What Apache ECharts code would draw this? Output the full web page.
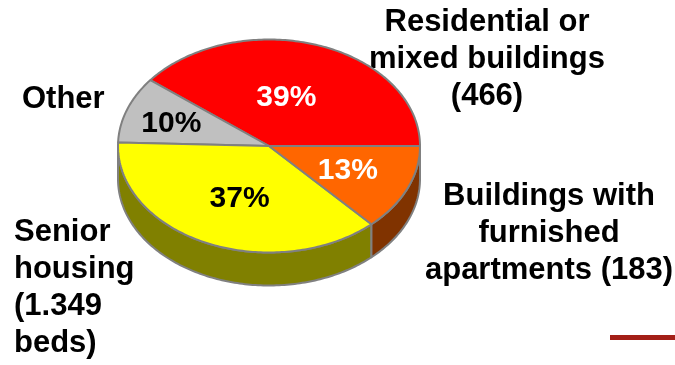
<!DOCTYPE html>
<html>
<head>
<meta charset="utf-8">
<script src="https://cdn.jsdelivr.net/npm/echarts@6/dist/echarts.min.js"></script>
<style>
  html, body { margin: 0; padding: 0; background: #fff; }
  #chart { width: 675px; height: 365px; }
</style>
</head>
<body>
<div id="chart"></div>
<script>
// Slices, counter-clockwise from the 3 o'clock position
const categories = ['Residential or mixed buildings', 'Other', 'Senior housing', 'Buildings with furnished apartments'];
const shares = [39, 10, 37, 13];
const shareLabels = ['39%', '10%', '37%', '13%'];
const outerLabels = [
  'Residential or\nmixed buildings\n(466)',
  'Other',
  'Senior\nhousing\n(1.349\nbeds)',
  'Buildings with\nfurnished\napartments (183)'
];

// Styling
const topColors = ['#FF0000', '#C0C0C0', '#FFFF00', '#FF6600'];
const sideColors = ['#990000', '#808080', '#808000', '#803300'];
const shareLabelColors = ['#FFFFFF', '#000000', '#000000', '#FFFFFF'];
const shareLabelRadius = [0.47, 0.68, 0.53, 0.57];
const shareLabelNudge = [5, 2, 3, 0];
const FONT = 'bold 31px "Liberation Sans", Arial, sans-serif';
const PCT_FONT = 'bold 30px "Liberation Sans", Arial, sans-serif';

// Tilted-disc geometry
const CX = 269, CY = 146, RX = 151, RY = 106.5, DEPTH = 33;

const total = shares.reduce((a, b) => a + b, 0);
function startAngleOf(i) {
  let s = 0;
  for (let k = 0; k < i; k++) s += shares[k];
  return s / total * 360;
}
function pt(deg, dy) {
  const r = deg * Math.PI / 180;
  return [CX + RX * Math.cos(r), CY - RY * Math.sin(r) + (dy || 0)];
}
function arc(a0, a1, dy) {
  const pts = [];
  const n = Math.max(2, Math.ceil(Math.abs(a1 - a0)));
  for (let k = 0; k <= n; k++) pts.push(pt(a0 + (a1 - a0) * k / n, dy));
  return pts;
}

// Visible wall of each slice (front half of the disc only)
function renderSide(params, api) {
  const i = params.dataIndex;
  const a0 = startAngleOf(i);
  const a1 = a0 + api.value(0) / total * 360;
  const s = Math.max(a0, 180), e = Math.min(a1, 360);
  if (e <= s) return { type: 'group', children: [] };
  const pts = arc(s, e, 0).concat(arc(e, s, DEPTH));
  return {
    type: 'polygon',
    shape: { points: pts },
    style: { fill: sideColors[i], stroke: '#808080', lineWidth: 2, lineJoin: 'round' }
  };
}

// Top face of each slice with its percentage
function renderTop(params, api) {
  const i = params.dataIndex;
  const a0 = startAngleOf(i);
  const a1 = a0 + api.value(0) / total * 360;
  const pts = [[CX, CY]].concat(arc(a0, a1, 0));
  const mid = (a0 + a1) / 2 + shareLabelNudge[i];
  const r = mid * Math.PI / 180;
  const f = shareLabelRadius[i];
  return {
    type: 'group',
    children: [
      {
        type: 'polygon',
        shape: { points: pts },
        style: { fill: topColors[i], stroke: '#808080', lineWidth: 2, lineJoin: 'round' }
      },
      {
        type: 'text',
        x: CX + RX * f * Math.cos(r),
        y: CY - RY * f * Math.sin(r),
        style: {
          text: shareLabels[i],
          font: PCT_FONT,
          fill: shareLabelColors[i],
          align: 'center',
          verticalAlign: 'middle'
        },
        z2: 10
      }
    ]
  };
}

const chart = echarts.init(document.getElementById('chart'), null, { renderer: 'canvas' });
chart.setOption({
  animation: false,
  backgroundColor: '#ffffff',
  series: [
    {
      type: 'custom',
      name: 'walls',
      coordinateSystem: 'none',
      z: 1,
      data: shares.map((v, i) => ({ name: categories[i], value: v })),
      renderItem: renderSide
    },
    {
      type: 'custom',
      name: 'shares',
      coordinateSystem: 'none',
      z: 2,
      data: shares.map((v, i) => ({ name: categories[i], value: v })),
      renderItem: renderTop
    }
  ],
  graphic: [
    { type: 'text', x: 487, y: 4, style: { text: outerLabels[0], font: FONT, fill: '#000', align: 'center', lineHeight: 37 } },
    { type: 'text', x: 22, y: 81, style: { text: outerLabels[1], font: FONT, fill: '#000', align: 'left', lineHeight: 37 } },
    { type: 'text', x: 14, y: 214, style: { text: outerLabels[2], font: FONT, fill: '#000', align: 'left', lineHeight: 37 } },
    { type: 'text', x: 549, y: 178, style: { text: outerLabels[3], font: FONT, fill: '#000', align: 'center', lineHeight: 37 } },
    { type: 'rect', shape: { x: 610, y: 335, width: 65, height: 5 }, style: { fill: '#A31F17' } }
  ]
});
</script>
</body>
</html>
